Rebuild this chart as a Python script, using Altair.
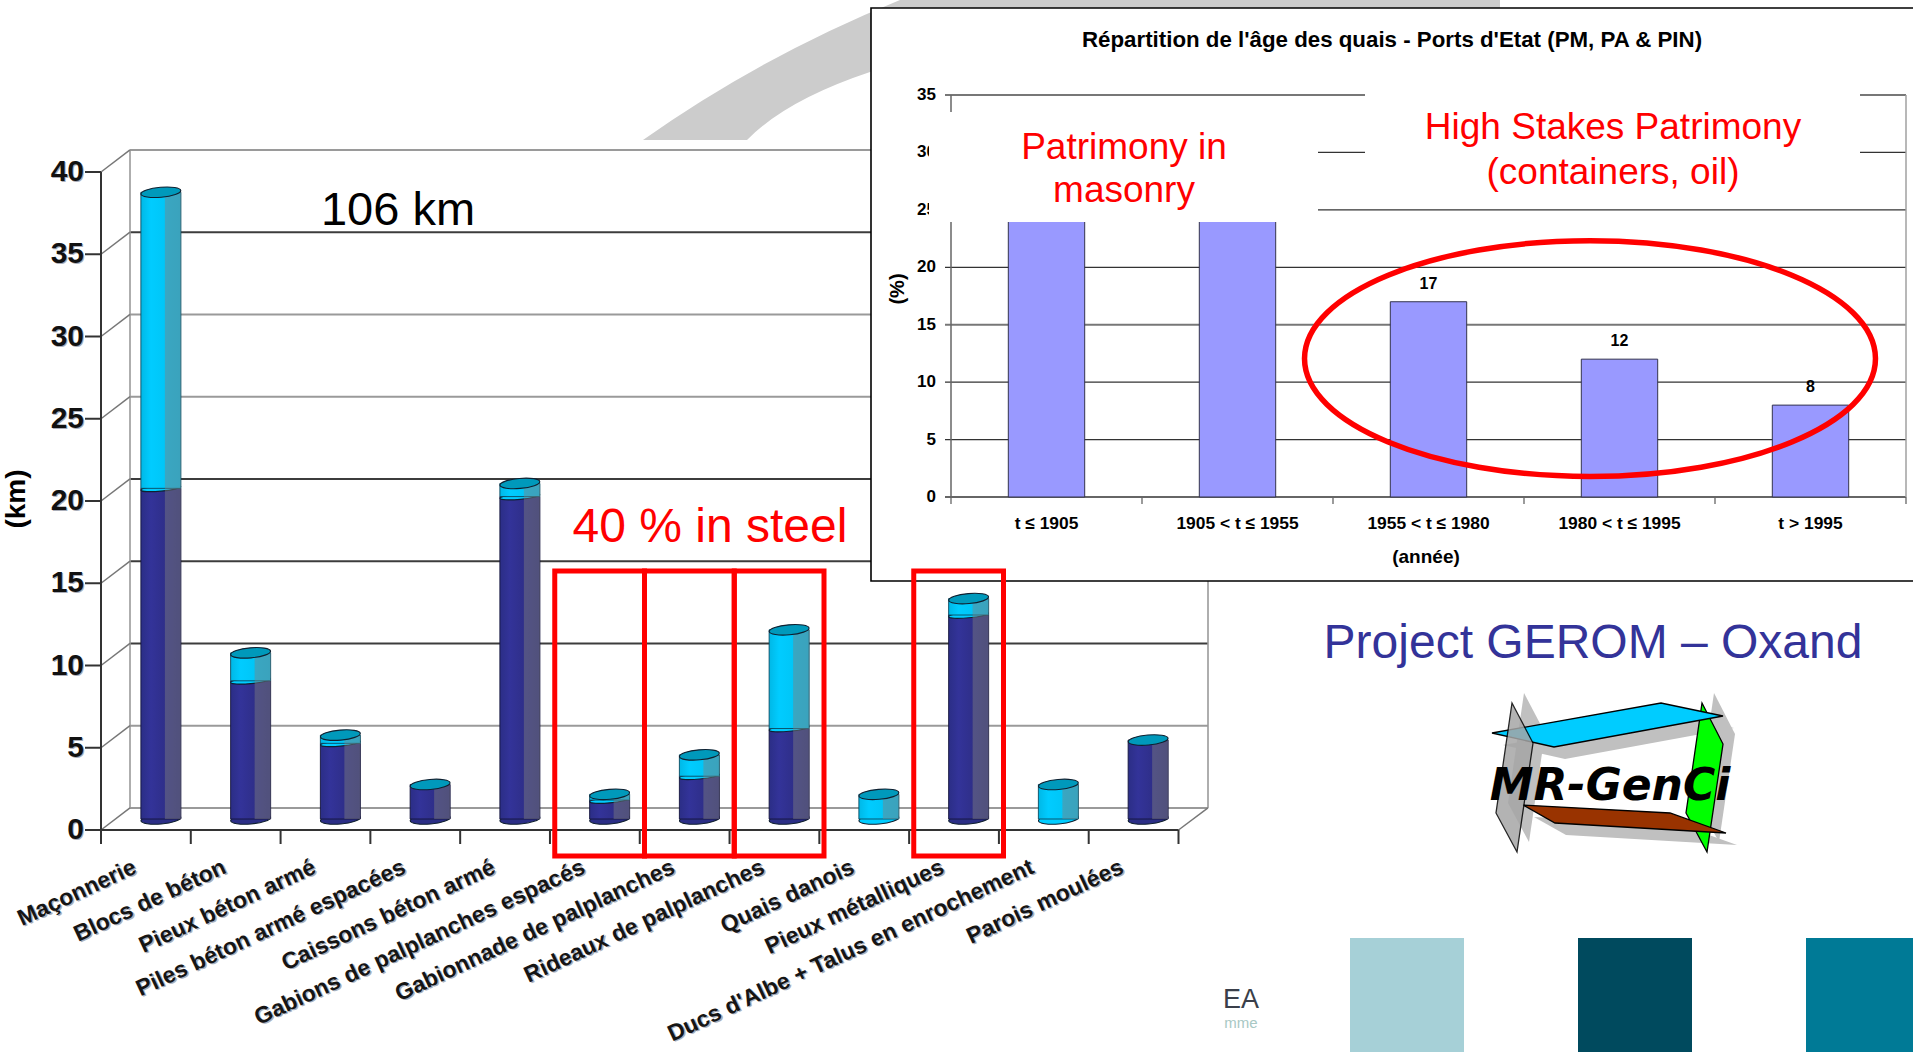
import altair as alt
import pandas as pd

# Quay length by structure type (km)
STRUCTURES = ["Maçonnerie", "Blocs de béton", "Pieux béton armé", "Piles béton armé espacées",
              "Caissons béton armé", "Gabions de palplanches espacés", "Gabionnade de palplanches",
              "Rideaux de palplanches", "Quais danois", "Pieux métalliques",
              "Ducs d'Albe + Talus en enrochement", "Parois moulées"]
DARK_KM = [20.1, 8.4, 4.6, 2.1, 19.6, 1.15, 2.6, 5.5, 0.0, 12.4, 0.0, 4.8]
CYAN_KM = [18.0, 1.7, 0.5, 0.0, 0.8, 0.35, 1.3, 6.0, 1.5, 1.0, 2.1, 0.0]
KM_TICKS = [0, 5, 10, 15, 20, 25, 30, 35, 40]
KM_GRID_DARK = [10, 15, 20, 35]
KM_GRID_SOFT = [0, 5, 25, 30, 40]
STEEL_BOXES = ["Gabions de palplanches espacés", "Gabionnade de palplanches",
               "Rideaux de palplanches", "Pieux métalliques"]

# Quay age distribution (%)
AGE_CLASSES = ["t ≤ 1905", "1905 < t ≤ 1955", "1955 < t ≤ 1980", "1980 < t ≤ 1995", "t > 1995"]
AGE_SHARE = [31, 31, 17, 12, 8]
PCT_TICKS = [0, 5, 10, 15, 20, 25, 30, 35]
PCT_GRID_DARK = [5, 10, 20, 25, 30]
PCT_GRID_SOFT = [15, 35]

FONT = "Liberation Sans"
DEPTH_KM = 1.34  # vertical shift of the back wall, in km

front = pd.DataFrame({"pos": range(len(STRUCTURES)), "cat": STRUCTURES})
bars = pd.DataFrame({"cat": STRUCTURES, "dark": DARK_KM, "cyan": CYAN_KM})
bars["top"] = bars["dark"] + bars["cyan"]
bars["zero"] = 0.0
age = pd.DataFrame({"cls": AGE_CLASSES, "share": AGE_SHARE})
age["zero"] = 0


def blank():
    return alt.Chart(alt.Data(values=[{}]))


def vals(name, values):
    return alt.Chart(pd.DataFrame({name: values}))


def rect(x0, x1, y0, y1, **kw):
    return blank().mark_rect(**kw).encode(x=alt.value(x0), x2=alt.value(x1), y=alt.value(y0), y2=alt.value(y1))


def label(text, x, y, size, color="black", bold=False, **kw):
    return blank().mark_text(text=text, font=FONT, fontSize=size, color=color,
                             fontWeight="bold" if bold else "normal", baseline="middle", **kw
                             ).encode(x=alt.value(x), y=alt.value(y))


def polygon(points, fill, stroke=None, opacity=1.0):
    path = "M" + " L".join(f"{a},{b}" for a, b in points) + " Z"
    return path_shape(path, fill, stroke, opacity)


def path_shape(path, fill, stroke=None, opacity=1.0):
    kw = {"stroke": stroke, "strokeWidth": 1.3} if stroke else {"strokeWidth": 0}
    return blank().mark_point(shape=path, size=4, filled=True, fill=fill, opacity=opacity, **kw
                              ).encode(x=alt.value(0), y=alt.value(0))


def shifted(points, dx, dy):
    return [(a + dx, b + dy) for a, b in points]


# Ellipse outline in the unit box used by custom point symbols
K = 0.5523
def ellipse_path(ratio):
    r = ratio
    return (f"M-1,0 C-1,{-r*K} {-K},{-r} 0,{-r} C{K},{-r} 1,{-r*K} 1,0 "
            f"C1,{r*K} {K},{r} 0,{r} C{-K},{r} -1,{r*K} -1,0 Z")


CAP = ellipse_path(0.25)
SEAM = ellipse_path(0.14)

# Faded swoosh behind the slide
swoosh = path_shape("M643,140 Q762,56 900,0 L1500,0 L1500,20 L870,72 Q786,100 747,140 Z", "#cccccc")

# --- Left chart: frame, axis and labels on the front plane ---
y_front = alt.Scale(domain=[0, 40], range=[830, 172])
x_ticks = alt.Scale(domain=[0, 12], range=[101, 1178.5])
back_y = alt.Y("b:Q", scale=y_front, axis=None)


def back_lines(values, color, width):
    return (vals("km", values).transform_calculate(b=f"datum.km + {DEPTH_KM}")
            .mark_rule(color=color, strokeWidth=width)
            .encode(y=back_y, x=alt.value(130), x2=alt.value(1208)))


km_y = alt.Y("km:Q", scale=y_front, axis=None)
left_frame = alt.layer(
    back_lines(KM_GRID_SOFT, "#9a9a9a", 2),
    back_lines(KM_GRID_DARK, "#3c3c3c", 2),
    blank().mark_rule(color="#9a9a9a", strokeWidth=1.6).encode(x=alt.value(130), y=alt.value(150), y2=alt.value(808)),
    blank().mark_rule(color="#9a9a9a", strokeWidth=1.6).encode(x=alt.value(1208), y=alt.value(150), y2=alt.value(808)),
    # receding edges from the front axis to the back wall
    vals("km", KM_TICKS).transform_calculate(b=f"datum.km + {DEPTH_KM}").mark_rule(color="#777777", strokeWidth=1.5)
    .encode(y=km_y, y2=alt.Y2("b:Q"), x=alt.value(101), x2=alt.value(130)),
    vals("t", [0]).transform_calculate(km="0", b=f"{DEPTH_KM}").mark_rule(color="#777777", strokeWidth=1.5)
    .encode(y=km_y, y2=alt.Y2("b:Q"), x=alt.value(1178.5), x2=alt.value(1208)),
    blank().mark_rule(color="#333333", strokeWidth=2).encode(x=alt.value(101), y=alt.value(172), y2=alt.value(830)),
    blank().mark_rule(color="#333333", strokeWidth=2).encode(x=alt.value(101), x2=alt.value(1178.5), y=alt.value(830)),
    vals("km", KM_TICKS).mark_rule(color="#333333", strokeWidth=2).encode(y=km_y, x=alt.value(85), x2=alt.value(101)),
    vals("p", list(range(13))).mark_rule(color="#333333", strokeWidth=2)
    .encode(x=alt.X("p:Q", scale=x_ticks, axis=None), y=alt.value(830), y2=alt.value(844)),
    vals("km", KM_TICKS).mark_text(align="right", baseline="middle", font=FONT, fontSize=30, fontWeight="bold",
                                   color="#a9adb8", dx=1, dy=1)
    .encode(y=km_y, x=alt.value(84), text="km:Q"),
    vals("km", KM_TICKS).mark_text(align="right", baseline="middle", font=FONT, fontSize=30, fontWeight="bold",
                                   color="#111111")
    .encode(y=km_y, x=alt.value(84), text="km:Q"),
)

# --- Left chart: cylinders, drawn on the mid-depth plane ---
x_cyl = alt.X("cat:N", scale=alt.Scale(type="band", domain=STRUCTURES, range=[116, 1193]), axis=None)
y_cyl = alt.Scale(domain=[0, 40], range=[819, 161])


def body_fill(a, b, c):
    return alt.Gradient(gradient="linear", x1=0, x2=1, y1=0, y2=0,
                        stops=[alt.GradientStop(color=a, offset=0), alt.GradientStop(color=b, offset=0.25),
                               alt.GradientStop(color=c, offset=1)])


def cap(field, fill, data=bars, stroke="#102030", sw=1.1, shape=CAP):
    return (alt.Chart(data).mark_point(shape=shape, size=1600, angle=355, filled=True, fill=fill, stroke=stroke,
                                       strokeWidth=sw, opacity=1)
            .encode(x=x_cyl, y=alt.Y(f"{field}:Q", scale=y_cyl, axis=None)))


dark_rows = bars[bars["dark"] > 0]
cyan_rows = bars[bars["cyan"] > 0].copy()
cyan_only = bars[bars["dark"] == 0]
split_rows = bars[(bars["dark"] > 0) & (bars["cyan"] > 0)]

cylinders = alt.layer(
    cap("zero", "#2b2e86", dark_rows),
    cap("zero", "#00ccff", cyan_only),
    alt.Chart(dark_rows).mark_bar(width=40, stroke="#14143c", strokeWidth=0.9,
                                  fill=body_fill("#2b2e86", "#333399", "#2a2a78"))
    .encode(x=x_cyl, y=alt.Y("zero:Q", scale=y_cyl, axis=None), y2=alt.Y2("dark:Q")),
    cap("dark", "#00ccff", split_rows, shape=SEAM),
    alt.Chart(cyan_rows).mark_bar(width=40, stroke="#0a4a60", strokeWidth=0.9,
                                  fill=body_fill("#00b8e6", "#00ccff", "#00bfee"))
    .encode(x=x_cyl, y=alt.Y("dark:Q", scale=y_cyl, axis=None), y2=alt.Y2("top:Q")),
    alt.Chart(bars).mark_bar(width=16, xOffset=12, fill="#808080", opacity=0.45)
    .encode(x=x_cyl, y=alt.Y("zero:Q", scale=y_cyl, axis=None), y2=alt.Y2("top:Q")),
    cap("top", "#0099bb"),
)

# --- Slanted category labels ---
x_names = alt.Scale(type="band", domain=STRUCTURES, range=[90, 1167])


def names(color, dx, dy):
    return (alt.Chart(front).mark_text(align="right", baseline="middle", angle=335, font=FONT, fontSize=23,
                                       fontWeight="bold", color=color, dx=dx, dy=dy)
            .encode(x=alt.X("cat:N", scale=x_names, axis=None), y=alt.value(866), text="cat:N"))


slanted = alt.layer(names("#aab0bc", 1, 1.5), names("#151515", 0, 0))

# --- Inset: age of the quays ---
x_age = alt.X("cls:N", scale=alt.Scale(type="band", domain=AGE_CLASSES, range=[951, 1906],
                                       paddingInner=0, paddingOuter=0), axis=None)
y_pct = alt.Scale(domain=[0, 35], range=[497, 95])
pct_y = alt.Y("p:Q", scale=y_pct, axis=None)
x_edges = alt.Scale(domain=[0, 5], range=[951, 1906])

inset = alt.layer(
    rect(871, 1930, 8, 581, fill="white", stroke="black", strokeWidth=1.6),
    vals("p", PCT_GRID_SOFT).mark_rule(color="#777777", strokeWidth=2).encode(y=pct_y, x=alt.value(945), x2=alt.value(1906)),
    vals("p", PCT_GRID_DARK).mark_rule(color="#333333", strokeWidth=1.3).encode(y=pct_y, x=alt.value(945), x2=alt.value(1906)),
    vals("p", [0]).mark_rule(color="#666666", strokeWidth=2).encode(y=pct_y, x=alt.value(945), x2=alt.value(1906)),
    blank().mark_rule(color="#666666", strokeWidth=1.5).encode(x=alt.value(951), y=alt.value(95), y2=alt.value(497)),
    blank().mark_rule(color="#a0a0a0", strokeWidth=1.5).encode(x=alt.value(1906), y=alt.value(95), y2=alt.value(497)),
    vals("e", list(range(6))).mark_rule(color="#666666", strokeWidth=1.3)
    .encode(x=alt.X("e:Q", scale=x_edges, axis=None), y=alt.value(497), y2=alt.value(504)),
    alt.Chart(age).mark_bar(width=alt.RelativeBandSize(band=0.4), fill="#9999ff", stroke="#33334d", strokeWidth=1)
    .encode(x=x_age, y=alt.Y("zero:Q", scale=y_pct, axis=None), y2=alt.Y2("share:Q")),
    # the two oldest classes run up behind the text box, so only the others carry a value
    alt.Chart(age[age["share"] < 20]).mark_text(baseline="middle", font=FONT, fontSize=16, fontWeight="bold", color="black", dy=-18)
    .encode(x=x_age, y=alt.Y("share:Q", scale=y_pct, axis=None), text="share:Q"),
    vals("p", PCT_TICKS).mark_text(align="right", baseline="middle", font=FONT, fontSize=17, fontWeight="bold", color="black")
    .encode(y=pct_y, x=alt.value(936), text="p:Q"),
    alt.Chart(age).mark_text(baseline="middle", font=FONT, fontSize=17.4, fontWeight="bold", color="black")
    .encode(x=x_age, y=alt.value(524), text="cls:N"),
    label("(année)", 1426, 557, 19, bold=True),
    label("(%)", 898, 289, 20, bold=True, angle=270),
    label("Répartition de l'âge des quais - Ports d'Etat (PM, PA & PIN)", 1392, 40, 22.3, bold=True),
    # white text boxes that sit over the inset
    rect(929, 1318, 112, 222, fill="white"),
    rect(1365, 1860, 90, 190, fill="white"),
)

# Ellipse around the recent age classes
ring_group = (alt.Chart(pd.DataFrame({"cls": [AGE_CLASSES[3]], "p": [12.05]}))
              .mark_point(shape=ellipse_path(0.413), size=326000, filled=False, stroke="#ff0000", strokeWidth=5.5,
                          opacity=1, xOffset=-29.5)
              .encode(x=x_age, y=pct_y))

# Red frames around the steel structures
frames = (alt.Chart(pd.DataFrame({"cat": STEEL_BOXES, "a": [15.75] * 4, "b": [-1.58] * 4}))
          .mark_rect(fillOpacity=0, stroke="#ff0000", strokeWidth=5)
          .encode(x=alt.X("cat:N", scale=alt.Scale(type="band", domain=STRUCTURES, range=[106, 1183],
                                                   paddingInner=0, paddingOuter=0), axis=None),
                  y=alt.Y("a:Q", scale=y_front, axis=None), y2=alt.Y2("b:Q")))

# --- MR-GenCi logo ---
PLATE_LEFT = [(1512, 703), (1533, 743), (1517, 852), (1496, 813)]
PLATE_TOP = [(1492, 733), (1661, 703), (1723, 716), (1554, 747)]
PLATE_RIGHT = [(1702, 703), (1723, 744), (1707, 852), (1686, 813)]
PLATE_BOTTOM = [(1523, 805), (1670, 813), (1726, 833), (1555, 823)]
logo = alt.layer(
    polygon(shifted(PLATE_LEFT, 12, -10), "#c0c0c0"),
    polygon(shifted(PLATE_RIGHT, 12, -10), "#c0c0c0"),
    polygon(shifted(PLATE_TOP, 11, 12), "#c0c0c0"),
    polygon(shifted(PLATE_BOTTOM, 11, 12), "#c0c0c0"),
    polygon(PLATE_RIGHT, "#00ff00", "black"),
    polygon(PLATE_TOP, "#00ccff", "black"),
    polygon(PLATE_BOTTOM, "#993300", "black"),
    polygon(PLATE_LEFT, "#a6a6a6", "black", 0.85),
    blank().mark_text(text="MR-GenCi", font="DejaVu Sans", fontSize=44, fontWeight="bold", fontStyle="italic",
                      color="black", baseline="middle").encode(x=alt.value(1610), y=alt.value(787)),
)

# --- Slide furniture ---
furniture = alt.layer(
    rect(1350, 1464, 938, 1052, fill="#a6d0d7"),
    rect(1578, 1692, 938, 1052, fill="#004a5e"),
    rect(1806, 1920, 938, 1052, fill="#007a96"),
    label("EA", 1241, 1000, 27, color="#3a3f4a"),
    label("mme", 1241, 1023, 15, color="#a8c8c4"),
)

annotations = alt.layer(
    label("106 km", 398, 211, 47),
    label("40 % in steel", 710, 528, 48, color="#ff0000"),
    label("Patrimony in", 1124, 148, 37, color="#ff0000"),
    label("masonry", 1124, 191, 37, color="#ff0000"),
    label("High Stakes Patrimony", 1613, 128, 37, color="#ff0000"),
    label("(containers, oil)", 1613, 173, 37, color="#ff0000"),
    label("Project GEROM – Oxand", 1593, 644, 48, color="#333399"),
    label("(km)", 17, 499, 28, bold=True, angle=270),
)

chart = (
    alt.layer(swoosh, left_frame, cylinders, slanted, inset, ring_group, frames, logo, furniture, annotations)
    .resolve_scale(x="independent", y="independent")
    .properties(width=1913, height=1052, padding=0, autosize=alt.AutoSizeParams(type="none"), background="white")
    .configure_view(strokeWidth=0)
)
chart.save("out.html", embed_options={"renderer": "svg", "actions": False})
